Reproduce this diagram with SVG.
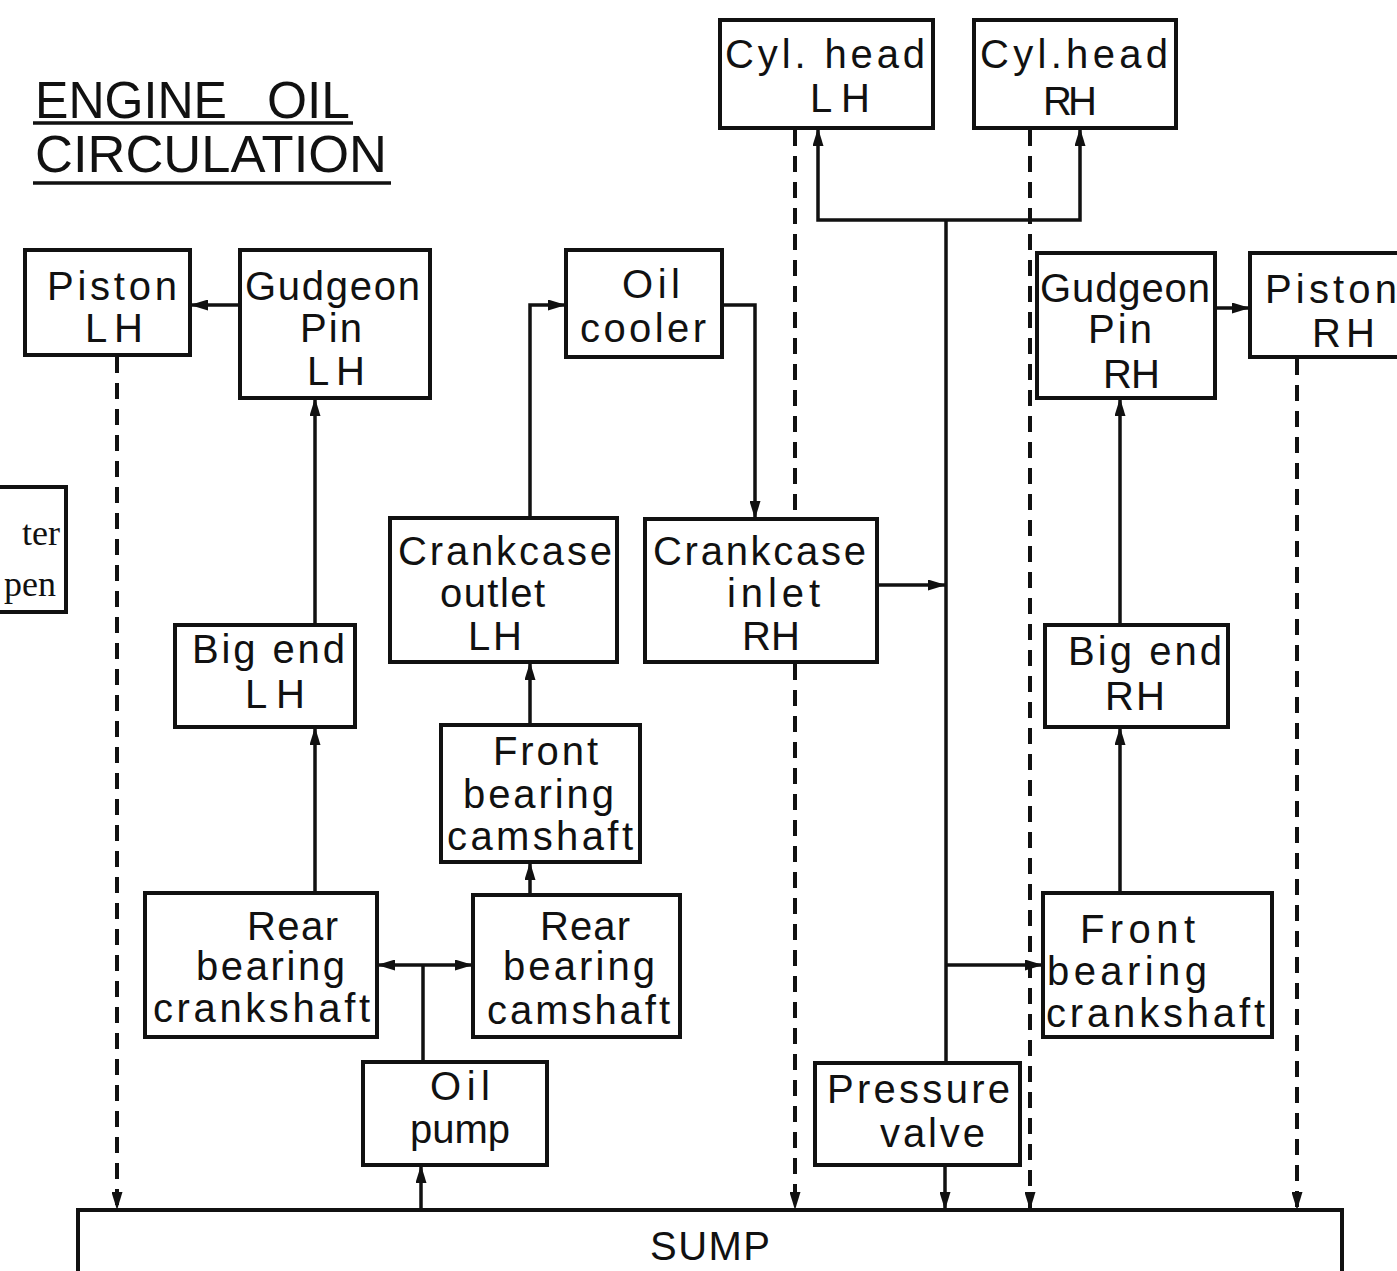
<svg xmlns="http://www.w3.org/2000/svg" width="1397" height="1271" viewBox="0 0 1397 1271">
<style>
.bx{fill:#fff;stroke:#111;stroke-width:4}
.t{font-family:"Liberation Sans",Arial,sans-serif;font-size:40px;fill:#111}
.ti{font-family:"Liberation Sans",Arial,sans-serif;font-size:52px;fill:#111}
.sf{font-family:"Liberation Serif","Times New Roman",serif;font-size:36px;fill:#111}
.c{fill:none;stroke:#111;stroke-width:3.5}
.d{fill:none;stroke:#111;stroke-width:4;stroke-dasharray:16 10}
.ul{stroke:#111;stroke-width:3.5}
</style>
<defs>
<marker id="ah" viewBox="0 0 18 11" refX="18" refY="5.5" markerWidth="18" markerHeight="11" markerUnits="userSpaceOnUse" orient="auto-start-reverse">
<path d="M0,0 L18,5.5 L0,11 z" fill="#111"/>
</marker>
</defs>
<rect width="1397" height="1271" fill="#fff"/>

<g id="title">
<text class="ti"><tspan x="35" y="118" textLength="192" lengthAdjust="spacingAndGlyphs">ENGINE</tspan><tspan x="267" y="118" textLength="83" lengthAdjust="spacingAndGlyphs">OIL</tspan></text>
<text class="ti" x="35" y="172" textLength="352" lengthAdjust="spacingAndGlyphs">CIRCULATION</text>
<line class="ul" x1="33" y1="123" x2="353" y2="123"/>
<line class="ul" x1="33" y1="183" x2="391" y2="183"/>
</g>

<g id="connectors">
<line class="c" x1="240" y1="305" x2="190" y2="305" marker-end="url(#ah)"/>
<line class="c" x1="315" y1="625" x2="315" y2="398" marker-end="url(#ah)"/>
<line class="c" x1="315" y1="893" x2="315" y2="727" marker-end="url(#ah)"/>
<line class="c" x1="423" y1="1062" x2="423" y2="965"/>
<line class="c" x1="377" y1="965" x2="473" y2="965" marker-start="url(#ah)" marker-end="url(#ah)"/>
<line class="c" x1="421" y1="1210" x2="421" y2="1165" marker-end="url(#ah)"/>
<line class="c" x1="530" y1="895" x2="530" y2="862" marker-end="url(#ah)"/>
<line class="c" x1="530" y1="725" x2="530" y2="662" marker-end="url(#ah)"/>
<path class="c" d="M530,518 V305 H566" marker-end="url(#ah)"/>
<path class="c" d="M722,305 H755 V519" marker-end="url(#ah)"/>
<line class="c" x1="877" y1="585" x2="946" y2="585" marker-end="url(#ah)"/>
<line class="c" x1="946" y1="1063" x2="946" y2="220"/>
<path class="c" d="M946,220 H818 V128" marker-end="url(#ah)"/>
<path class="c" d="M946,220 H1080 V128" marker-end="url(#ah)"/>
<line class="c" x1="946" y1="965" x2="1043" y2="965" marker-end="url(#ah)"/>
<line class="c" x1="945" y1="1165" x2="945" y2="1210" marker-end="url(#ah)"/>
<line class="c" x1="1120" y1="625" x2="1120" y2="398" marker-end="url(#ah)"/>
<line class="c" x1="1120" y1="893" x2="1120" y2="727" marker-end="url(#ah)"/>
<line class="c" x1="1215" y1="308" x2="1250" y2="308" marker-end="url(#ah)"/>
<line class="d" x1="117" y1="357" x2="117" y2="1210" marker-end="url(#ah)"/>
<line class="d" x1="795" y1="130" x2="795" y2="519"/>
<line class="d" x1="795" y1="664" x2="795" y2="1210" marker-end="url(#ah)"/>
<line class="d" x1="1030" y1="130" x2="1030" y2="1210" marker-end="url(#ah)"/>
<line class="d" x1="1297" y1="359" x2="1297" y2="1210" marker-end="url(#ah)"/>
</g>

<g id="legend-partial">
<rect class="bx" x="-10" y="487" width="76" height="125"/>
<text class="sf" x="60" y="545" text-anchor="end">ter</text>
<text class="sf" x="56" y="596" text-anchor="end">pen</text>
</g>

<g id="piston-lh">
<rect class="bx" x="25" y="250" width="165" height="105"/>
<text class="t" x="47" y="300" textLength="130">Piston</text>
<text class="t" x="85" y="342" textLength="58">LH</text>
</g>

<g id="gudgeon-lh">
<rect class="bx" x="240" y="250" width="190" height="148"/>
<text class="t" x="245" y="300" textLength="175">Gudgeon</text>
<text class="t" x="300" y="342" textLength="62">Pin</text>
<text class="t" x="307" y="385" textLength="58">LH</text>
</g>

<g id="cylhead-lh">
<rect class="bx" x="720" y="20" width="213" height="108"/>
<text class="t" x="725" y="68" textLength="200">Cyl. head</text>
<text class="t" x="810" y="112" textLength="60">LH</text>
</g>

<g id="cylhead-rh">
<rect class="bx" x="974" y="20" width="202" height="108"/>
<text class="t" x="980" y="68" textLength="188">Cyl.head</text>
<text class="t" x="1043" y="115" textLength="54">RH</text>
</g>

<g id="oil-cooler">
<rect class="bx" x="566" y="250" width="156" height="107"/>
<text class="t" x="622" y="298" textLength="58">Oil</text>
<text class="t" x="580" y="342" textLength="126">cooler</text>
</g>

<g id="gudgeon-rh">
<rect class="bx" x="1037" y="253" width="178" height="145"/>
<text class="t" x="1040" y="302" textLength="170">Gudgeon</text>
<text class="t" x="1088" y="343" textLength="64">Pin</text>
<text class="t" x="1103" y="388" textLength="57">RH</text>
</g>

<g id="piston-rh">
<rect class="bx" x="1250" y="253" width="200" height="104"/>
<text class="t" x="1265" y="303" textLength="132">Piston</text>
<text class="t" x="1312" y="347" textLength="63">RH</text>
</g>

<g id="bigend-lh">
<rect class="bx" x="175" y="625" width="180" height="102"/>
<text class="t" x="192" y="663" textLength="153">Big end</text>
<text class="t" x="245" y="708" textLength="60">LH</text>
</g>

<g id="crankcase-outlet-lh">
<rect class="bx" x="390" y="518" width="227" height="144"/>
<text class="t" x="398" y="565" textLength="214">Crankcase</text>
<text class="t" x="440" y="607" textLength="105">outlet</text>
<text class="t" x="468" y="650" textLength="54">LH</text>
</g>

<g id="crankcase-inlet-rh">
<rect class="bx" x="645" y="519" width="232" height="143"/>
<text class="t" x="653" y="565" textLength="213">Crankcase</text>
<text class="t" x="727" y="607" textLength="93">inlet</text>
<text class="t" x="742" y="650" textLength="58">RH</text>
</g>

<g id="front-bearing-camshaft">
<rect class="bx" x="441" y="725" width="199" height="137"/>
<text class="t" x="493" y="765" textLength="105">Front</text>
<text class="t" x="463" y="808" textLength="151">bearing</text>
<text class="t" x="447" y="850" textLength="186">camshaft</text>
</g>

<g id="bigend-rh">
<rect class="bx" x="1045" y="625" width="183" height="102"/>
<text class="t" x="1068" y="665" textLength="154">Big end</text>
<text class="t" x="1105" y="710" textLength="60">RH</text>
</g>

<g id="rear-bearing-crankshaft">
<rect class="bx" x="145" y="893" width="232" height="144"/>
<text class="t" x="247" y="940" textLength="91">Rear</text>
<text class="t" x="196" y="980" textLength="149">bearing</text>
<text class="t" x="153" y="1022" textLength="217">crankshaft</text>
</g>

<g id="rear-bearing-camshaft">
<rect class="bx" x="473" y="895" width="207" height="142"/>
<text class="t" x="540" y="940" textLength="90">Rear</text>
<text class="t" x="503" y="980" textLength="152">bearing</text>
<text class="t" x="487" y="1024" textLength="183">camshaft</text>
</g>

<g id="front-bearing-crankshaft">
<rect class="bx" x="1043" y="893" width="229" height="144"/>
<text class="t" x="1080" y="943" textLength="115">Front</text>
<text class="t" x="1047" y="985" textLength="160">bearing</text>
<text class="t" x="1046" y="1027" textLength="219">crankshaft</text>
</g>

<g id="oil-pump">
<rect class="bx" x="363" y="1062" width="184" height="103"/>
<text class="t" x="430" y="1100" textLength="60">Oil</text>
<text class="t" x="410" y="1143" textLength="100">pump</text>
</g>

<g id="pressure-valve">
<rect class="bx" x="815" y="1063" width="205" height="102"/>
<text class="t" x="827" y="1103" textLength="183">Pressure</text>
<text class="t" x="880" y="1147" textLength="105">valve</text>
</g>

<g id="sump">
<rect class="bx" x="78" y="1210" width="1264" height="120"/>
<text class="t" x="650" y="1260" textLength="120">SUMP</text>
</g>
</svg>
